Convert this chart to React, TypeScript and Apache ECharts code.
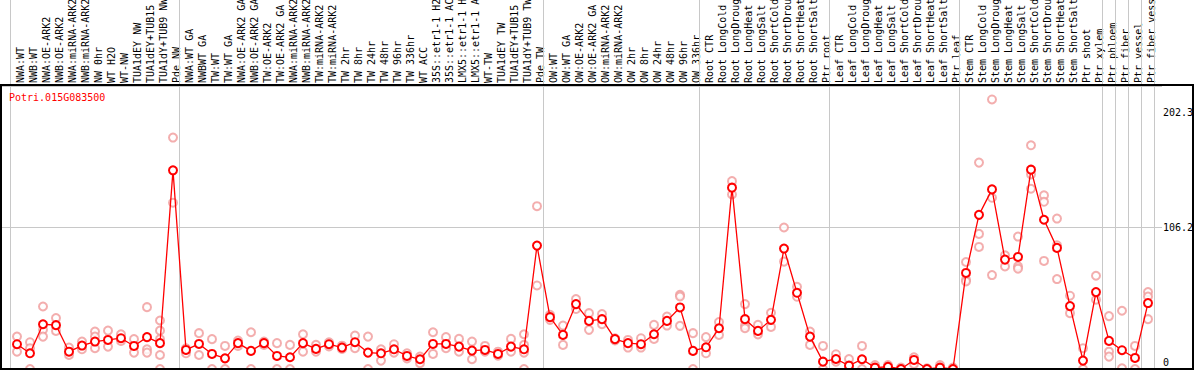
import React, { useEffect, useRef } from "react";
import * as echarts from "echarts";

const categories: string[] = [
  "NWA:WT", "NWB:WT", "NWA:OE-ARK2", "NWB:OE-ARK2", "NWA:miRNA-ARK2", "NWB:miRNA-ARK2",
  "NW 0hr", "WT H2O", "WT-NW", "TUA1dEY NW", "TUA1dEY+TUB15", "TUA1dY+TUB9 NW", "Pde NW",
  "NWA:WT GA", "NWBWT GA", "TW:WT", "TW:WT GA", "NWA:OE-ARK2 GA", "NWB:OE-ARK2 GA",
  "TW:OE-ARK2", "TW:OE-ARK2 GA", "NWA:miRNA-ARK2", "NWB:miRNA-ARK2", "TW:miRNA-ARK2",
  "TW:miRNA-ARK2", "TW 2hr", "TW 8hr", "TW 24hr", "TW 48hr", "TW 96hr", "TW 336hr", "WT ACC",
  "35S::etr1-1 H2", "35S::etr1-1 AC", "LMX5::etr1-1 H", "LMX5::etr1-1 A", "WT-TW",
  "TUA1dEY TW", "TUA1dEY+TUB15", "TUA1dY+TUB9 TW", "Pde TW",
  "OW:WT", "OW:WT GA", "OW:OE-ARK2", "OW:OE-ARK2 GA", "OW:miRNA-ARK2", "OW:miRNA-ARK2",
  "OW 2hr", "OW 8hr", "OW 24hr", "OW 48hr", "OW 96hr", "OW 336hr",
  "Root CTR", "Root LongCold", "Root LongDroug", "Root LongHeat", "Root LongSalt",
  "Root ShortCold", "Root ShortDrou", "Root ShortHeat", "Root ShortSalt", "Ptr root",
  "Leaf CTR", "Leaf LongCold", "Leaf LongDroug", "Leaf LongHeat", "Leaf LongSalt",
  "Leaf ShortCold", "Leaf ShortDrou", "Leaf ShortHeat", "Leaf ShortSalt", "Ptr leaf",
  "Stem CTR", "Stem LongCold", "Stem LongDroug", "Stem LongHeat", "Stem LongSalt",
  "Stem ShortCold", "Stem ShortDrou", "Stem ShortHeat", "Stem ShortSalt", "Ptr shoot", "Ptr xylem",
  "Ptr phloem", "Ptr fiber", "Ptr vessel", "Ptr fiber vess",
];

// group boundaries (index of first category of each group, plus the end)
const groupStarts: number[] = [0, 13, 41, 53, 63, 73, 84, 85, 86, 87, 88];

const meanValues: number[] = [
  18.6, 11.8, 33.6, 32.9, 13.0, 17.6, 20.6, 21.8, 23.1, 17.3, 23.9, 19.4, 149.1,
  14.3, 18.8, 11.3, 8.0, 19.4, 13.6, 19.4, 9.8, 8.8, 19.4, 15.1, 18.6, 16.1, 20.1, 12.3,
  11.8, 14.8, 9.8, 7.3, 18.8, 18.8, 16.8, 13.8, 14.3, 11.3, 16.8, 14.8, 92.6,
  38.9, 25.6, 48.7, 36.1, 37.4, 22.4, 19.4, 18.6, 26.1, 36.1, 46.2, 13.6,
  16.3, 30.6, 136.1, 37.4, 28.6, 36.9, 90.4, 57.2, 24.3, 5.5,
  7.5, 2.5, 7.3, 1.0, 1.7, 0, 6.8, 0, 1.0, 0,
  72.1, 115.7, 134.8, 82.1, 84.1, 149.6, 112.0, 90.9, 47.2, 6.3, 57.7,
  21.1, 14.1, 8.3, 49.5,
];

const rep1: (number | null)[] = [
  24.3, 20.1, 46.9, 38.2, 16.1, 20.6, 28.1, 28.8, 26.1, 22.4, 46.4, 36.4, 173.7,
  15.6, 26.9, 22.4, 17.3, 21.3, 27.6, 20.6, 19.4, 18.1, 26.1, 18.1, 20.0, 17.5, 25.1, 24.3,
  14.8, 18.6, 11.8, 9.3, 27.6, 23.9, 22.6, 20.6, 17.3, 13.0, 22.6, 26.1, 122.2,
  40.7, 32.6, 52.5, 41.9, 41.2, 23.0, 21.8, 23.1, 33.1, 39.4, 55.7, 26.9,
  23.9, 35.2, 141.0, 48.7, 33.1, 42.2, 106.2, 61.7, 28.1, 17.3,
  11.1, 7.5, 17.3, 3.0, 3.0, 1.0, 8.8, 0.5, 3.0, 1.0,
  80.3, 154.9, 202.3, 85.3, 99.4, 167.9, 130.3, 112.9, 55.0, 15.6, 70.0,
  39.7, 43.7, 17.3, 57.7,
];

const rep2: (number | null)[] = [
  13.0, 15.6, 29.4, 28.6, 10.5, 14.8, 24.3, 16.8, 21.1, 12.3, 14.8, 28.8, 124.8,
  11.8, 10.5, 0, 0, 17.3, 0, 18.0, 0, 0, 13.0, 13.0, 17.0, 15.0, 15.6, 0,
  6.3, 12.3, 8.0, 4.3, 11.3, 15.6, 13.0, 7.3, 13.0, 10.0, 13.0, 18.1, 62.7,
  36.9, 18.1, 45.0, 29.4, 33.6, 21.5, 16.1, 16.1, 22.6, 32.6, 54.4, 0,
  11.8, 25.6, 131.0, 32.6, 26.0, 31.6, 80.6, 54.2, 18.1, 0,
  5.5, 1.0, 0, 0, 0.5, 0, 3.8, 0, 0, 0,
  67.0, 101.4, 128.5, 77.0, 77.0, 146.1, 125.5, 92.9, 41.9, 0, 52.0,
  13.0, 0.5, 0, 54.4,
];

const rep3: (number | null)[] = [
  null, 0, 24.3, null, null, null, 15.6, null, null, null, 12.3, 22.4, null,
  null, null, null, null, null, null, null, null, null, null, null, null, null, null, null,
  null, null, null, null, null, null, null, null, null, null, null, 0, null,
  null, null, null, null, null, null, null, null, null, null, 32.4, null,
  null, null, null, 30.6, null, null, null, null, null, null,
  null, null, null, null, null, null, null, null, null, null,
  65.7, 91.6, 70.5, null, 75.3, 135.3, 81.1, 67.5, null, null, null,
  9.3, null, null, 37.4,
];

const rep4: (number | null)[] = categories.map((_, i) =>
  i === 11 ? 10.5 : i === 39 ? 12.3 : null
);

const rep5: (number | null)[] = categories.map((_, i) => (i === 11 ? 0 : null));

const geneTitle = "Potri.015G083500";
const yTickLabels: string[] = ["202.3", "106.2", "0"];
const yAxisMax = 212.4;

const MONO = '"DejaVu Sans Mono", "Liberation Mono", monospace';
const RED = "#ff0000";
const PINK = "#f09a9a";
const GRAY = "#c8c8c8";

export default function App() {
  const ref = useRef<HTMLDivElement>(null);

  useEffect(() => {
    if (!ref.current) return;
    const chart = echarts.init(ref.current, undefined, { renderer: "svg" });

    const L = 10.5;
    const R = 1194 - (10.5 + 13 * 88);
    const LABEL_SHIFT = 3.5;

    const repSeries = [rep1, rep2, rep3, rep4, rep5].map((d) => ({
      type: "scatter",
      xAxisIndex: 3,
      yAxisIndex: 3,
      data: d,
      symbol: "emptyCircle",
      symbolSize: 8,
      itemStyle: { color: PINK, borderColor: PINK, borderWidth: 1.2 },
      silent: true,
      z: 2,
    }));

    chart.setOption({
      animation: false,
      backgroundColor: "#ffffff",
      title: {
        text: geneTitle,
        left: 9,
        top: 92,
        padding: 0,
        textStyle: { color: RED, fontSize: 10, fontWeight: "normal", fontFamily: MONO },
      },
      grid: [
        { left: L + LABEL_SHIFT, right: R - LABEL_SHIFT, top: 0, bottom: 370 - 84 },
        { left: L, right: R, top: 0, bottom: 1 },
        { left: 2, right: 32, top: 86, bottom: 1 },
        { left: L, right: R, top: 86, bottom: 1 },
      ],
      xAxis: [
        {
          gridIndex: 0,
          type: "category",
          data: categories,
          position: "bottom",
          axisLine: { show: false },
          axisTick: { show: false },
          splitLine: { show: false },
          axisLabel: {
            inside: true,
            rotate: 90,
            interval: 0,
            margin: 1,
            color: "#000",
            fontSize: 10,
            fontFamily: MONO,
          },
        },
        { gridIndex: 1, type: "value", min: -0.5, max: 87.5, show: false },
        { gridIndex: 2, type: "value", min: 0, max: 1, show: false },
        { gridIndex: 3, type: "category", data: categories, show: false },
      ],
      yAxis: [
        { gridIndex: 0, type: "value", show: false },
        { gridIndex: 1, type: "value", min: 0, max: 1, show: false },
        {
          gridIndex: 2,
          type: "value",
          min: 0,
          max: yAxisMax - 0.1,
          interval: 106.2,
          axisLine: { show: false },
          axisTick: { show: false },
          axisLabel: { show: false },
          splitLine: { show: true, lineStyle: { color: GRAY, width: 1 } },
        },
        { gridIndex: 3, type: "value", min: 0, max: yAxisMax, show: false },
      ],
      graphic: [
        {
          type: "rect",
          z: 100,
          shape: { x: 1, y: 85, width: 1192, height: 284 },
          style: { fill: "none", stroke: "#000", lineWidth: 2 },
          silent: true,
        },
        ...yTickLabels.map((t, k) => ({
          type: "text",
          z: 100,
          x: 1163,
          y: [112, 227, 362][k],
          style: {
            text: t,
            fill: "#000",
            font: `10px ${MONO}`,
            verticalAlign: "middle",
            align: "left",
          },
        })),
      ],
      series: [
        { type: "line", xAxisIndex: 0, yAxisIndex: 0, data: [], silent: true },
        {
          type: "line",
          xAxisIndex: 1,
          yAxisIndex: 1,
          data: [[-0.5, -1]],
          showSymbol: false,
          silent: true,
          lineStyle: { opacity: 0 },
          markLine: {
            silent: true,
            symbol: ["none", "none"],
            label: { show: false },
            lineStyle: { color: GRAY, type: "solid", width: 1 },
            data: groupStarts.map((b) => ({ xAxis: b - 0.5 })),
          },
        },
        { type: "line", xAxisIndex: 2, yAxisIndex: 2, data: [], silent: true },
        ...repSeries,
        {
          type: "line",
          xAxisIndex: 3,
          yAxisIndex: 3,
          data: meanValues,
          symbol: "emptyCircle",
          symbolSize: 8,
          showSymbol: true,
          showAllSymbol: true,
          lineStyle: { color: RED, width: 1.3 },
          itemStyle: { color: RED, borderColor: RED, borderWidth: 1.6 },
          silent: true,
          z: 5,
        },
      ],
    });

    return () => chart.dispose();
  }, []);

  return (
    <div
      ref={ref}
      style={{ position: "fixed", left: 0, top: 0, width: 1194, height: 370, background: "#fff" }}
    />
  );
}
